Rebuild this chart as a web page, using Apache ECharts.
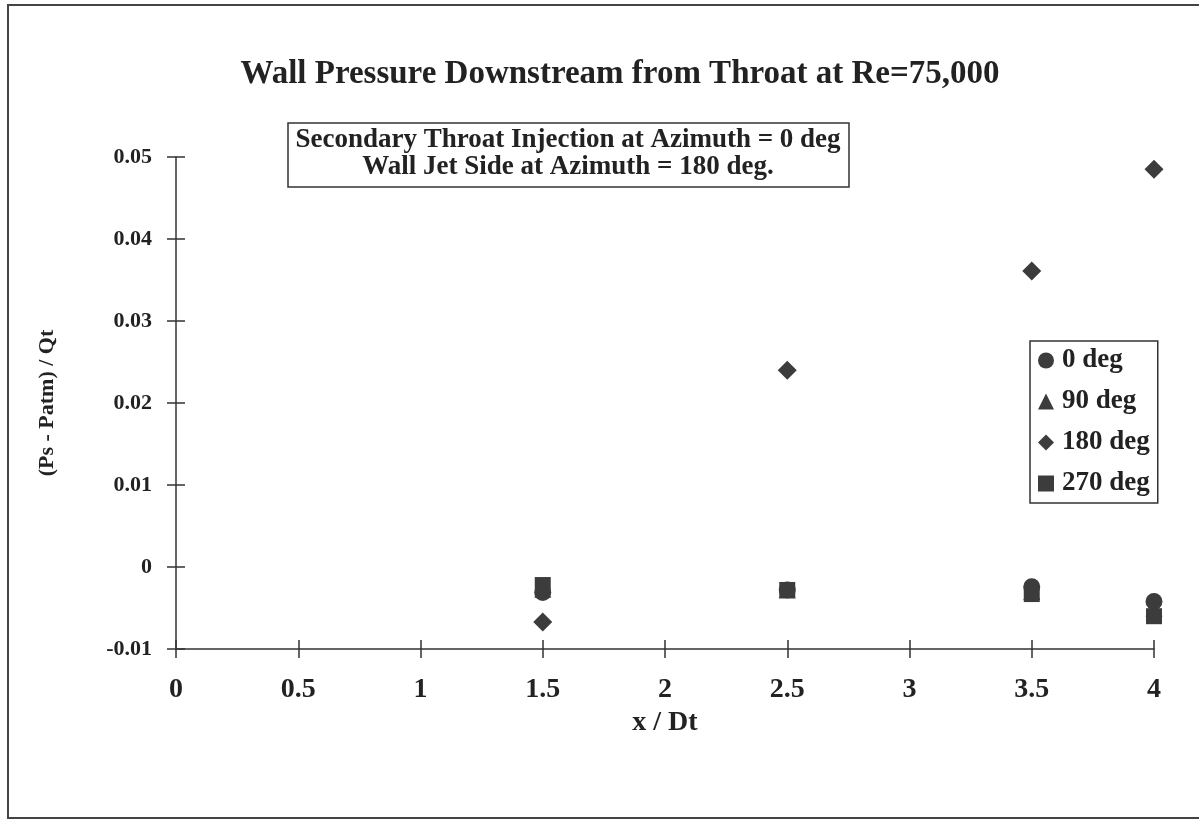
<!DOCTYPE html>
<html>
<head>
<meta charset="utf-8">
<script src="https://cdn.jsdelivr.net/npm/echarts@6/dist/echarts.min.js"></script>
<style>
html,body{margin:0;padding:0;background:#fff;}
#c{width:1199px;height:824px;}
</style>
</head>
<body>
<div id="c"></div>
<script>
var xValues = [1.5, 2.5, 3.5, 4];
var deg0 = [-0.0031, -0.0028, -0.0024, -0.0042];
var deg90 = [-0.0027, -0.0028, -0.0030, -0.0050];
var deg180 = [-0.0067, 0.0240, 0.0361, 0.0485];
var deg270 = [-0.0022, -0.0028, -0.0033, -0.0060];
var seriesNames = ['0 deg', '90 deg', '180 deg', '270 deg'];
var titleText = 'Wall Pressure Downstream from Throat at Re=75,000';
var noteLines = ['Secondary Throat Injection at Azimuth = 0 deg', 'Wall Jet Side at Azimuth = 180 deg.'];

var FONT = '"Liberation Serif", "Times New Roman", serif';
var INK = '#3c3c3c';
function pairs(ys){ return xValues.map(function(x,i){ return [x, ys[i]]; }); }
function ser(name, data, symbol, size){
  return {name:name, type:'scatter', data:pairs(data), symbol:symbol, symbolSize:size,
    itemStyle:{color:INK, opacity:1}, xAxisIndex:0, yAxisIndex:0};
}
function font(sz){ return {fontFamily:FONT, fontWeight:'bold', fontSize:sz, color:'#222'}; }
var chart = echarts.init(document.getElementById('c'));
chart.setOption({
  animation:false,
  backgroundColor:'#fff',
  title:{text:titleText, left:615, top:53, textAlign:'center', textStyle:font(33)},
  grid:{left:176, right:45, top:157, bottom:175, containLabel:false},
  xAxis:[{
    type:'value', min:0, max:4, interval:0.5,
    name:'x / Dt', nameLocation:'middle', nameGap:54,
    nameTextStyle:font(28),
    axisLine:{show:true, onZero:false, lineStyle:{color:'#333', width:1.5}},
    axisTick:{show:true, inside:false, length:9, lineStyle:{color:'#333', width:1.5}},
    axisLabel:Object.assign({margin:27, formatter:function(v){return String(v);}}, font(28)),
    splitLine:{show:false}
  },{
    type:'value', min:0, max:4, interval:0.5, position:'bottom',
    axisLine:{show:false, onZero:false},
    axisTick:{show:true, inside:true, length:9, lineStyle:{color:'#333', width:1.5}},
    axisLabel:{show:false}, splitLine:{show:false}
  }],
  yAxis:[{
    type:'value', min:-0.01, max:0.05, interval:0.01,
    name:'(Ps - Patm) / Qt', nameLocation:'middle', nameGap:118, nameRotate:90,
    nameTextStyle:font(22),
    axisLine:{show:true, onZero:false, lineStyle:{color:'#333', width:1.5}},
    axisTick:{show:true, inside:false, length:9, lineStyle:{color:'#333', width:1.5}},
    axisLabel:Object.assign({margin:24, formatter:function(v){ return v===0?'0':String(Math.round(v*100)/100); }}, font(22)),
    splitLine:{show:false}
  },{
    type:'value', min:-0.01, max:0.05, interval:0.01, position:'left',
    axisLine:{show:false, onZero:false},
    axisTick:{show:true, inside:true, length:9, lineStyle:{color:'#333', width:1.5}},
    axisLabel:{show:false}, splitLine:{show:false}
  }],
  legend:{
    orient:'vertical', left:1030, top:341,
    data:[
      {name:seriesNames[0], icon:'circle'},
      {name:seriesNames[1], icon:'triangle'},
      {name:seriesNames[2], icon:'diamond'},
      {name:seriesNames[3], icon:'rect'}
    ],
    itemWidth:16, itemHeight:16, itemGap:14,
    padding:[6,8,6,8],
    borderColor:'#333', borderWidth:1.5, backgroundColor:'#fff',
    textStyle:Object.assign({padding:[0,0,0,3]}, font(27))
  },
  series:[
    ser(seriesNames[0], deg0, 'circle', 17),
    ser(seriesNames[1], deg90, 'triangle', 17),
    ser(seriesNames[2], deg180, 'diamond', 19),
    ser(seriesNames[3], deg270, 'rect', 16)
  ],
  graphic:[
    {type:'rect', shape:{x:8, y:5, width:1195, height:813}, silent:true, z:-1,
     style:{fill:null, stroke:'#444', lineWidth:2}},
    {type:'rect', shape:{x:288, y:123, width:561, height:64}, silent:true,
     style:{fill:'#fff', stroke:'#333', lineWidth:1.5}},
    {type:'text', x:568, y:140, silent:true,
     style:{text:noteLines[0], align:'center', verticalAlign:'middle', fontFamily:FONT, fontWeight:'bold', fontSize:27, fill:'#222'}},
    {type:'text', x:568, y:167, silent:true,
     style:{text:noteLines[1], align:'center', verticalAlign:'middle', fontFamily:FONT, fontWeight:'bold', fontSize:27, fill:'#222'}}
  ]
});
</script>
</body>
</html>
